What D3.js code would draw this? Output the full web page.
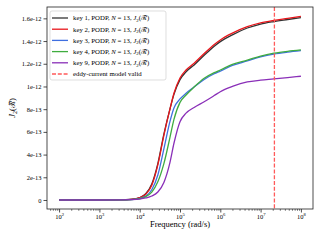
<!DOCTYPE html>
<html>
<head>
<meta charset="utf-8">
<script src="https://cdn.jsdelivr.net/npm/d3@7"></script>
<style>
  body { margin: 0; background: #fff; }
  svg { display: block; }
  text { font-family: 'Liberation Serif', 'DejaVu Serif', serif; fill: #000; }
</style>
</head>
<body>
<svg id="chart" width="320" height="240"></svg>
<script>
// frequency grid, as powers of ten
const logFreq = [2, 3, 3.5, 3.8, 4, 4.15, 4.3, 4.45, 4.6, 4.75, 4.85, 5, 5.15, 5.35, 5.6, 5.85, 6, 6.3, 6.67, 7, 7.33, 7.67, 8]

// J2 values in units of 1e-12
const key1 = [0, 0, 0.001, 0.007, 0.022, 0.055, 0.14, 0.32, 0.58, 0.80, 0.93, 1.06, 1.13, 1.19, 1.275, 1.355, 1.395, 1.455, 1.515, 1.55, 1.572, 1.59, 1.607]
const key2 = [0, 0, 0.001, 0.006, 0.02, 0.05, 0.13, 0.31, 0.57, 0.80, 0.94, 1.075, 1.145, 1.205, 1.29, 1.37, 1.41, 1.47, 1.527, 1.56, 1.582, 1.60, 1.618]
const key3 = [0, 0, 0.001, 0.004, 0.014, 0.035, 0.09, 0.22, 0.45, 0.69, 0.81, 0.89, 0.94, 0.995, 1.062, 1.112, 1.135, 1.185, 1.225, 1.26, 1.285, 1.302, 1.315]
const key4 = [0, 0, 0.001, 0.004, 0.012, 0.03, 0.07, 0.16, 0.32, 0.55, 0.71, 0.86, 0.925, 0.995, 1.072, 1.122, 1.145, 1.195, 1.232, 1.268, 1.293, 1.31, 1.322]
const key9 = [0, 0, 0.001, 0.003, 0.008, 0.018, 0.035, 0.07, 0.155, 0.33, 0.50, 0.69, 0.765, 0.815, 0.865, 0.92, 0.954, 1.0, 1.04, 1.055, 1.066, 1.078, 1.09]
const unit = 1e-12

const seriesNames = ['key 1', 'key 2', 'key 3', 'key 4', 'key 9']
const seriesColors = ['#333333', '#e8161b', '#3f6fe0', '#3fac3f', '#8a2fb8']
const seriesValues = [key1, key2, key3, key4, key9]

const validFreq = 2.2e7
const yTicks = [0, 2e-13, 4e-13, 6e-13, 8e-13, 1e-12, 1.2e-12, 1.4e-12, 1.6e-12]
const yTickLabels = ['0', '2e-13', '4e-13', '6e-13', '8e-13', '1e-12', '1.2e-12', '1.4e-12', '1.6e-12']
const xTickExps = [2, 3, 4, 5, 6, 7, 8]

const svg = d3.select('#chart')
const pLeft = 47, pRight = 313, pTop = 7, pBottom = 209

const x = d3.scaleLog().domain([Math.pow(10, 1.7), Math.pow(10, 8.3)]).range([pLeft, pRight])
const y = d3.scaleLinear().domain([-0.0793e-12, 1.7e-12]).range([pBottom, pTop])

// curves
const line = d3.line()
  .x(d => x(d[0]))
  .y(d => y(d[1]))
  .curve(d3.curveMonotoneX)

seriesValues.forEach((vals, i) => {
  const pts = logFreq.map((e, j) => [Math.pow(10, e), vals[j] * unit])
  svg.append('path')
    .attr('d', line(pts))
    .attr('fill', 'none')
    .attr('stroke', seriesColors[i])
    .attr('stroke-width', 1.3)
})

// validity line
svg.append('line')
  .attr('x1', x(validFreq)).attr('x2', x(validFreq))
  .attr('y1', pTop).attr('y2', pBottom)
  .attr('stroke', '#ff5a5a')
  .attr('stroke-width', 1.3)
  .attr('stroke-dasharray', '4,1.8')

// frame
svg.append('rect')
  .attr('x', pLeft).attr('y', pTop)
  .attr('width', pRight - pLeft).attr('height', pBottom - pTop)
  .attr('fill', 'none')
  .attr('stroke', '#222')
  .attr('stroke-width', 0.8)

// x axis
const xMinor = []
for (let e = 1; e <= 8; e++) {
  for (let k = 2; k <= 9; k++) {
    const v = k * Math.pow(10, e)
    if (v > x.domain()[0] && v < x.domain()[1]) xMinor.push(v)
  }
}
svg.append('g').attr('transform', `translate(0,${pBottom})`)
  .call(d3.axisBottom(x).tickValues(xMinor).tickSize(1.8).tickFormat(''))
  .call(g => g.select('.domain').remove())
  .call(g => g.selectAll('line').attr('stroke', '#222').attr('stroke-width', 0.6))

const xAxis = svg.append('g').attr('transform', `translate(0,${pBottom})`)
  .call(d3.axisBottom(x).tickValues(xTickExps.map(e => Math.pow(10, e))).tickSize(3.5).tickFormat(''))
  .call(g => g.select('.domain').remove())
  .call(g => g.selectAll('line').attr('stroke', '#222').attr('stroke-width', 0.8))

xAxis.selectAll('.tick').each(function (d, i) {
  const t = d3.select(this).append('text')
    .attr('y', 10)
    .attr('text-anchor', 'middle')
    .style('font-size', '6.5px')
  t.append('tspan').text('10')
  t.append('tspan').attr('dy', -2.6).style('font-size', '4.6px').text(xTickExps[i])
})

// y axis
svg.append('g').attr('transform', `translate(${pLeft},0)`)
  .call(d3.axisLeft(y).tickValues(yTicks).tickSize(3.5).tickPadding(2).tickFormat((d, i) => yTickLabels[i]))
  .call(g => g.select('.domain').remove())
  .call(g => g.selectAll('line').attr('stroke', '#222').attr('stroke-width', 0.8))
  .call(g => g.selectAll('text').style('font-size', '6.5px').style('font-family', "'Liberation Serif', serif"))

// axis labels
svg.append('text')
  .attr('x', (pLeft + pRight) / 2).attr('y', 227)
  .attr('text-anchor', 'middle')
  .style('font-size', '8.5px')
  .text('Frequency (rad/s)')

const yl = svg.append('text')
  .attr('transform', `translate(15,${(pTop + pBottom) / 2}) rotate(-90)`)
  .attr('text-anchor', 'middle')
  .style('font-size', '8.5px')
yl.append('tspan').style('font-style', 'italic').text('J')
yl.append('tspan').attr('dy', 1.8).style('font-size', '6px').text('2')
yl.append('tspan').attr('dy', -1.8).text('(ℛ̃)')

// legend
const lg = svg.append('g')
lg.append('rect')
  .attr('x', 50).attr('y', 11).attr('width', 116).attr('height', 69)
  .attr('rx', 2)
  .attr('fill', '#fff').attr('fill-opacity', 0.85)
  .attr('stroke', '#d0d0d0').attr('stroke-width', 0.7)

const rowY = d3.scaleLinear().domain([0, 5]).range([18, 74])

seriesNames.forEach((name, i) => {
  const ry = rowY(i)
  lg.append('line')
    .attr('x1', 52).attr('x2', 68).attr('y1', ry).attr('y2', ry)
    .attr('stroke', seriesColors[i]).attr('stroke-width', 1.3)
  const t = lg.append('text')
    .attr('x', 73).attr('y', ry + 2.3)
    .style('font-size', '6.8px')
  t.append('tspan').text(name + ', PODP, ')
  t.append('tspan').style('font-style', 'italic').text('N')
  t.append('tspan').text(' = 13, ')
  t.append('tspan').style('font-style', 'italic').text('J')
  t.append('tspan').attr('dy', 1.4).style('font-size', '4.8px').text('2')
  t.append('tspan').attr('dy', -1.4).text('(ℛ̃)')
})

const ry = rowY(5)
lg.append('line')
  .attr('x1', 52).attr('x2', 68).attr('y1', ry).attr('y2', ry)
  .attr('stroke', '#ff5a5a').attr('stroke-width', 1.3)
  .attr('stroke-dasharray', '4,1.8')
lg.append('text')
  .attr('x', 73).attr('y', ry + 2.3)
  .style('font-size', '6.8px')
  .text('eddy-current model valid')
</script>
</body>
</html>
